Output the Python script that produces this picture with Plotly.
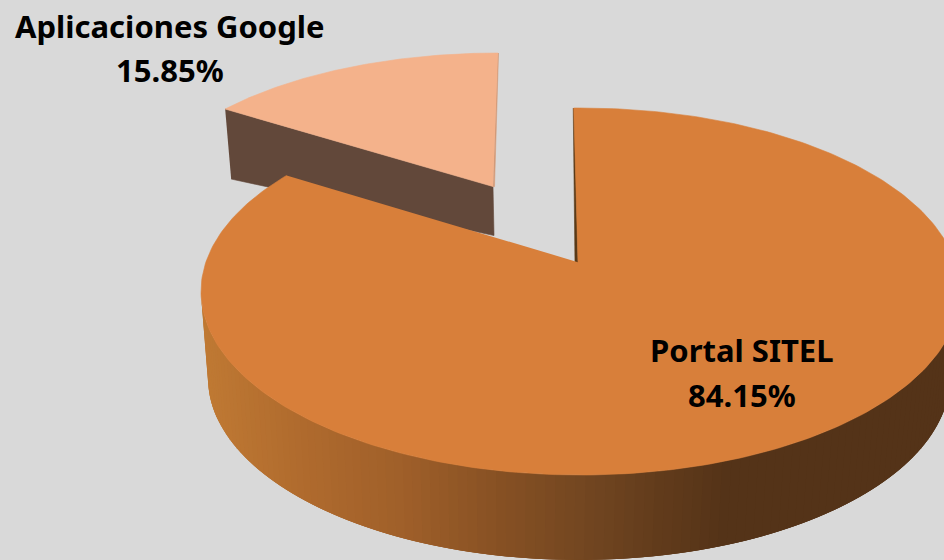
import numpy as np
import plotly.graph_objects as go

categories = ["Portal SITEL", "Aplicaciones Google"]
shares = [84.15, 15.85]
share_labels = ["84.15%", "15.85%"]

BG = "#D9D9D9"
MAIN_TOP = "#D87F3A"
SMALL_TOP = "#F4B28B"
SMALL_WALL = "#62483A"
SMALL_EDGE = "#D39A78"
MAIN_EDGE = "#5A3A18"
# wall shading, left to right along the front of the main slice
WALL_X = [200, 300, 400, 500, 590, 660, 730, 950]
WALL_R = [192, 176, 160, 135, 114, 98, 84, 84]
WALL_G = [122, 107, 96, 81, 70, 60, 51, 51]
WALL_B = [52, 46, 42, 36, 33, 28, 24, 24]

# screen geometry of the tilted disc
TILT = 0.16  # how far the apex sits above the ellipse centre, in radii
MAIN = dict(cx=580.5, cy=291.5, a=379.5, b=183.5)
MAIN_BASE = dict(cx=579, cy=378, a=371, b=182)
SMALL = dict(cx=498, cy=212, a=358, b=159)


def rim(angle_deg, e):
    # true pie angle (clockwise from 12 o'clock) to a screen point, with perspective
    t = np.radians(angle_deg)
    x, y = np.sin(t), np.cos(t)
    d = 1 + TILT * y
    u = np.sqrt(1 - TILT**2) * x / d
    v = (y + TILT) / d
    return e["cx"] + e["a"] * u, e["cy"] - e["b"] * v


def polygon(fig, xs, ys, color, width=0.6):
    fig.add_trace(
        go.Scatter(
            x=list(xs),
            y=list(ys),
            mode="lines",
            fill="toself",
            fillcolor=color,
            line=dict(color=color, width=width),
            hoverinfo="skip",
            showlegend=False,
        )
    )


main_sweep = shares[0] / sum(shares) * 360
start = -1.2

fig = go.Figure()

# exploded small slice
sx, sy = rim(np.linspace(main_sweep - 360, 0, 90), SMALL)
apex_s = (493, SMALL["cy"] - SMALL["b"] * TILT)
polygon(
    fig,
    [sx[0], apex_s[0], apex_s[0] + 1, sx[0] + 6],
    [sy[0], apex_s[1], apex_s[1] + 49, sy[0] + 70],
    SMALL_WALL,
)
polygon(fig, [sx[-1] - 0.5, apex_s[0], apex_s[0] + 1.5, sx[-1] + 0.5], [sy[-1], apex_s[1], apex_s[1], sy[-1]], SMALL_EDGE)
polygon(fig, [apex_s[0], *sx], [apex_s[1], *sy], SMALL_TOP)

# curved wall of the main slice, in overlapping strips painted left to right
t = np.linspace(-90, 90, 120)
wall_u = np.sin(np.radians(t))
wall_v = np.cos(np.radians(t))
top_x = MAIN["cx"] + MAIN["a"] * wall_u
top_y = MAIN["cy"] + MAIN["b"] * wall_v
base_x = MAIN_BASE["cx"] + MAIN_BASE["a"] * wall_u
base_y = MAIN_BASE["cy"] + MAIN_BASE["b"] * wall_v
for i in range(len(t) - 1):
    j = min(i + 3, len(t) - 1)
    mid = (top_x[i] + top_x[i + 1]) / 2
    shade = "rgb(%d,%d,%d)" % (
        np.interp(mid, WALL_X, WALL_R),
        np.interp(mid, WALL_X, WALL_G),
        np.interp(mid, WALL_X, WALL_B),
    )
    polygon(
        fig,
        [*top_x[i:j + 1], *base_x[i:j + 1][::-1]],
        [*top_y[i:j + 1], *base_y[i:j + 1][::-1]],
        shade,
        width=0,
    )

# main slice top
mx, my = rim(np.linspace(start, start + main_sweep, 300), MAIN)
apex_m = (578, MAIN["cy"] - MAIN["b"] * TILT)
polygon(fig, [mx[0] - 0.5, apex_m[0] - 3, apex_m[0], mx[0] + 0.5], [my[0], apex_m[1] + 2, apex_m[1] + 2, my[0]], MAIN_EDGE)
polygon(fig, [apex_m[0], *mx], [apex_m[1], *my], MAIN_TOP)

# labels: name line and share line
label_xy = [(742, 350, 395), (170, 26, 70)]
for name, pct, (lx, y1, y2) in zip(categories, share_labels, label_xy):
    for text, ly in ((name, y1), (pct, y2)):
        fig.add_annotation(
            x=lx,
            y=ly,
            text="<b>%s</b>" % text,
            showarrow=False,
            font=dict(family="Noto Sans", size=31, color="#000000"),
        )

fig.update_xaxes(range=[0, 944], visible=False)
fig.update_yaxes(range=[560, 0], visible=False)
fig.update_layout(
    width=944,
    height=560,
    margin=dict(l=0, r=0, t=0, b=0),
    paper_bgcolor=BG,
    plot_bgcolor=BG,
    showlegend=False,
)

# the page's default body margin would shift the plot by 8px
fig.write_html(
    "out.html",
    config={"displayModeBar": False},
    post_script="document.body.style.margin='0';document.body.style.overflow='hidden';",
)
